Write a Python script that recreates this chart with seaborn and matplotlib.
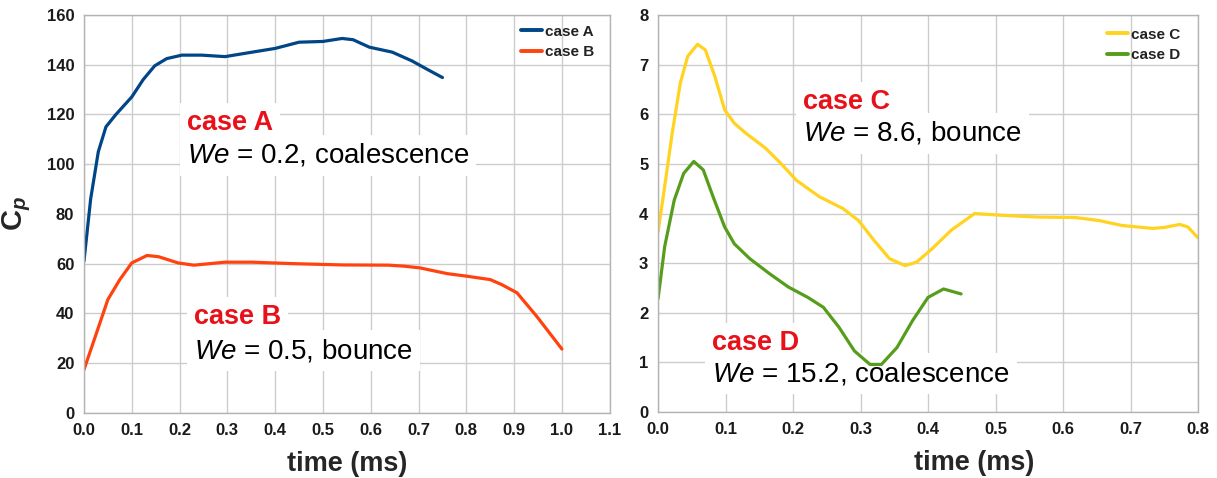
import numpy as np
import pandas as pd
import seaborn as sns
import matplotlib.pyplot as plt

# values
t_a = [0, 0.014, 0.03, 0.046, 0.067, 0.1, 0.124, 0.148, 0.173, 0.205, 0.246, 0.295,
       0.352, 0.40, 0.45, 0.5, 0.54, 0.563, 0.597, 0.645, 0.686, 0.719, 0.75]
cp_a = [61, 86, 105, 115, 120, 127, 134, 139.5, 142.4, 143.8, 143.8, 143.2,
        145, 146.5, 149, 149.3, 150.5, 150, 147, 145, 141.5, 138, 134.8]

t_b = [0, 0.026, 0.05, 0.075, 0.1, 0.132, 0.156, 0.197, 0.23, 0.295, 0.352, 0.44,
       0.54, 0.637, 0.67, 0.703, 0.76, 0.80, 0.85, 0.874, 0.906, 0.947, 1.0]
cp_b = [17.4, 32, 45.6, 53.6, 60.3, 63.3, 62.8, 60.3, 59.4, 60.6, 60.6, 60,
        59.5, 59.4, 59, 58.3, 56, 55, 53.6, 51.6, 48.3, 38.9, 25.7]

t_c = [0, 0.0098, 0.021, 0.033, 0.044, 0.0585, 0.07, 0.084, 0.0987, 0.113, 0.13,
       0.159, 0.182, 0.205, 0.239, 0.274, 0.297, 0.32, 0.343, 0.366, 0.383, 0.406,
       0.434, 0.469, 0.503, 0.561, 0.618, 0.653, 0.687, 0.733, 0.75, 0.773, 0.785, 0.8]
cp_c = [3.63, 4.54, 5.62, 6.63, 7.17, 7.41, 7.3, 6.77, 6.09, 5.82, 5.62,
        5.32, 5.01, 4.67, 4.34, 4.10, 3.86, 3.46, 3.09, 2.95, 3.02, 3.29,
        3.66, 4.0, 3.97, 3.93, 3.92, 3.86, 3.76, 3.70, 3.72, 3.78, 3.73, 3.51]

t_d = [0, 0.0098, 0.024, 0.038, 0.053, 0.067, 0.0815, 0.0987, 0.113, 0.136, 0.165,
       0.193, 0.222, 0.245, 0.268, 0.291, 0.314, 0.331, 0.354, 0.377, 0.40, 0.423, 0.449]
cp_d = [2.28, 3.33, 4.27, 4.81, 5.05, 4.88, 4.34, 3.73, 3.39, 3.09, 2.79,
        2.52, 2.31, 2.11, 1.71, 1.23, 0.96, 0.96, 1.30, 1.84, 2.31, 2.48, 2.38]

# LibreOffice default palette
colors = {'case A': '#004586', 'case B': '#ff420e', 'case C': '#ffd320', 'case D': '#579d1c'}
red = '#e8111a'

sns.set_style('whitegrid')
plt.rcParams['font.family'] = ['Liberation Sans', 'DejaVu Sans']
plt.rcParams['mathtext.fontset'] = 'custom'
plt.rcParams['mathtext.it'] = 'Liberation Sans:italic'
plt.rcParams['mathtext.bf'] = 'Liberation Sans:bold'
plt.rcParams['mathtext.bfit'] = 'Liberation Sans:bold:italic'

fig = plt.figure(figsize=(12.17, 4.78), dpi=100)
ax1 = fig.add_axes([0.069, 0.136, 0.432, 0.833])
ax2 = fig.add_axes([0.5407, 0.138, 0.4437, 0.8305])

df_left = pd.concat([
    pd.DataFrame({'time': t_a, 'cp': cp_a, 'case': 'case A'}),
    pd.DataFrame({'time': t_b, 'cp': cp_b, 'case': 'case B'}),
])
df_right = pd.concat([
    pd.DataFrame({'time': t_c, 'cp': cp_c, 'case': 'case C'}),
    pd.DataFrame({'time': t_d, 'cp': cp_d, 'case': 'case D'}),
])

sns.lineplot(data=df_left, x='time', y='cp', hue='case', palette=colors,
             sort=False, linewidth=2.3, ax=ax1)
sns.lineplot(data=df_right, x='time', y='cp', hue='case', palette=colors,
             sort=False, linewidth=2.3, ax=ax2)

ax1.set_xlim(0, 1.1)
ax1.set_ylim(0, 160)
ax1.set_xticks(np.arange(0, 1.15, 0.1))
ax1.set_yticks(np.arange(0, 161, 20))
ax2.set_xlim(0, 0.8)
ax2.set_ylim(0, 8)
ax2.set_xticks(np.arange(0, 0.85, 0.1))
ax2.set_yticks(np.arange(0, 9, 1))

for ax in (ax1, ax2):
    ax.set_xticklabels([f'{v:.1f}' for v in ax.get_xticks()])
    ax.grid(True, color='#cccccc', linewidth=1)
    for s in ax.spines.values():
        s.set_color('#b3b3b3')
        s.set_linewidth(1)
    ax.tick_params(axis='both', length=4, width=1, color='#b3b3b3', pad=3,
                   labelsize=12, labelcolor='#1a1a1a')
    for lab in ax.get_xticklabels() + ax.get_yticklabels():
        lab.set_fontweight('bold')
    ax.set_xlabel('time (ms)', fontsize=19.5, fontweight='bold')
    ax.set_ylabel('')
    leg = ax.legend(loc='upper right', frameon=False, fontsize=11, handlelength=1.4,
                    handletextpad=0.2, labelspacing=0.4, borderpad=0, borderaxespad=0)
    for txt in leg.get_texts():
        txt.set_fontweight('bold')
        txt.set_color('#222222')
    for ln in leg.get_lines():
        ln.set_linewidth(2.8)

ax1.legend_.set_bbox_to_anchor((0.971, 0.975), transform=ax1.transAxes)
ax2.legend_.set_bbox_to_anchor((0.967, 0.968), transform=ax2.transAxes)

ax2.xaxis.set_label_coords(0.585, -0.095)
ax1.xaxis.set_label_coords(0.5, -0.095)
ax1.set_ylabel(r'$\mathbf{C}_{\mathbfit{p}}$', fontsize=21, labelpad=10)

box = dict(facecolor='white', edgecolor='none', pad=5)
notes = [
    (ax1, 0.196, 0.711, 'case A', red, 'bold', 19.5),
    (ax1, 0.196, 0.628, r'$\mathit{We}$ = 0.2, coalescence', 'black', 'normal', 20),
    (ax1, 0.209, 0.224, 'case B', red, 'bold', 19.5),
    (ax1, 0.209, 0.138, r'$\mathit{We}$ = 0.5, bounce', 'black', 'normal', 20),
    (ax2, 0.2685, 0.763, 'case C', red, 'bold', 19.5),
    (ax2, 0.2685, 0.683, r'$\mathit{We}$ = 8.6, bounce', 'black', 'normal', 20),
    (ax2, 0.10, 0.156, 'case D', red, 'bold', 19.5),
    (ax2, 0.10, 0.078, r'$\mathit{We}$ = 15.2, coalescence', 'black', 'normal', 20),
]
for ax, x, y, s, c, w, fs in notes:
    ax.text(x, y, s, transform=ax.transAxes, color=c, fontweight=w, fontsize=fs,
            va='baseline', ha='left', bbox=box, zorder=1.5)

fig.savefig('out.png', dpi=100)
